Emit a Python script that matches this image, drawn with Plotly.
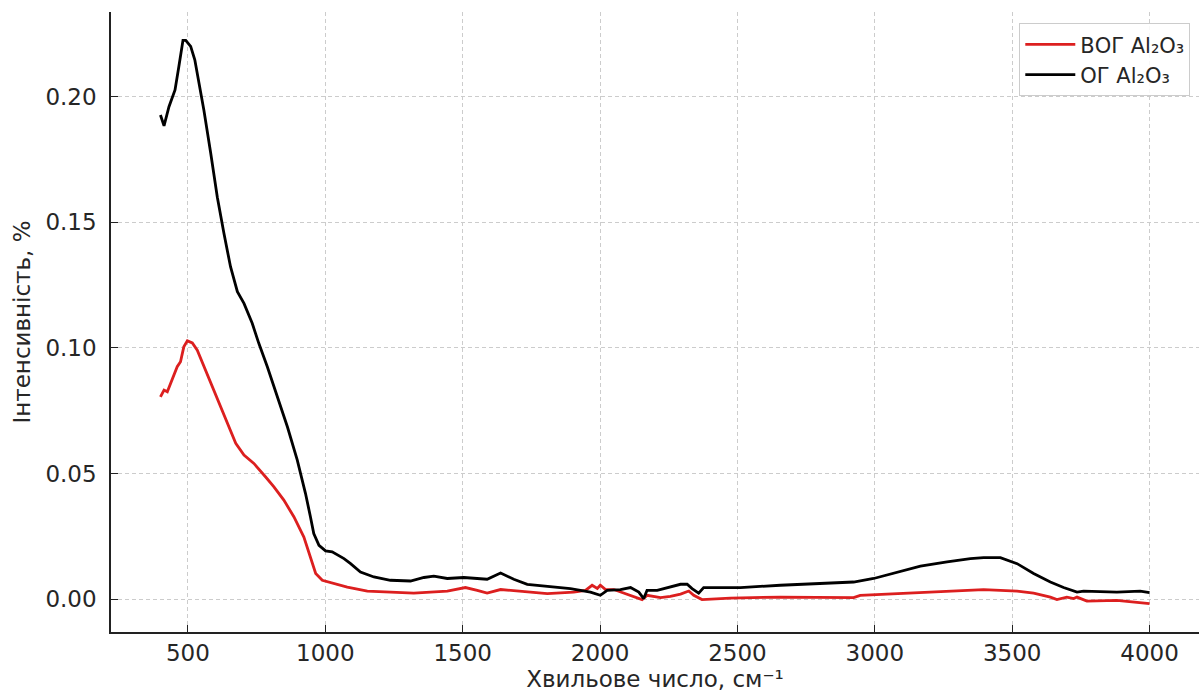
import plotly.graph_objects as go

# ОГ Al2O3 (black)
og_x = [400, 413, 431, 453, 467, 482, 492, 510, 525, 544, 558, 583, 607, 631, 655, 680,
        704, 734, 758, 789, 825, 862, 898, 928, 946, 958, 977, 1001, 1025, 1068, 1092,
        1128, 1177, 1237, 1310, 1359, 1395, 1444, 1504, 1589, 1638, 1686, 1735, 1808,
        1892, 1965, 2001, 2026, 2074, 2111, 2141, 2159, 2171, 2208, 2244, 2293, 2317,
        2335, 2359, 2377, 2438, 2511, 2656, 2838, 2923, 2996, 3081, 3166, 3263, 3348,
        3396, 3457, 3518, 3578, 3639, 3687, 3736, 3760, 3881, 3966, 4000]
og_y = [0.1927, 0.1884, 0.1960, 0.2027, 0.2120, 0.2224, 0.2224, 0.2200, 0.2147, 0.2040,
        0.1947, 0.1775, 0.1600, 0.1456, 0.1323, 0.1224, 0.1177, 0.1098, 0.1018, 0.0925,
        0.0805, 0.0686, 0.0553, 0.0420, 0.0327, 0.0261, 0.0214, 0.0192, 0.0188, 0.0161,
        0.0141, 0.0108, 0.0088, 0.0075, 0.0072, 0.0086, 0.0091, 0.0082, 0.0086, 0.0079,
        0.0104, 0.0079, 0.0059, 0.0051, 0.0042, 0.0028, 0.0015, 0.0035, 0.0038, 0.0046,
        0.0028, 0.0002, 0.0035, 0.0035, 0.0046, 0.0059, 0.0059, 0.0042, 0.0024, 0.0046,
        0.0046, 0.0046, 0.0055, 0.0062, 0.0068, 0.0082, 0.0108, 0.0131, 0.0148, 0.0161,
        0.0165, 0.0165, 0.0141, 0.0102, 0.0068, 0.0046, 0.0028, 0.0032, 0.0028, 0.0032,
        0.0026]

# ВОГ Al2O3 (red)
vog_x = [400, 413, 425, 443, 461, 473, 485, 498, 516, 534, 564, 589, 613, 643, 674, 704,
         740, 783, 813, 849, 886, 922, 946, 965, 989, 1031, 1080, 1153, 1237, 1322, 1444,
         1510, 1553, 1589, 1638, 1710, 1808, 1904, 1947, 1971, 1990, 2001, 2020, 2050,
         2099, 2153, 2171, 2220, 2256, 2293, 2323, 2341, 2371, 2474, 2656, 2923, 2947,
         3141, 3286, 3396, 3518, 3578, 3639, 3663, 3699, 3724, 3736, 3772, 3881, 4000]
vog_y = [0.0805, 0.0832, 0.0825, 0.0872, 0.0925, 0.0945, 0.1004, 0.1028, 0.1020, 0.0991,
         0.0912, 0.0845, 0.0779, 0.0699, 0.0620, 0.0573, 0.0540, 0.0486, 0.0447, 0.0394,
         0.0327, 0.0247, 0.0168, 0.0102, 0.0075, 0.0062, 0.0048, 0.0032, 0.0028, 0.0024,
         0.0032, 0.0046, 0.0035, 0.0024, 0.0038, 0.0032, 0.0022, 0.0028, 0.0035, 0.0055,
         0.0042, 0.0055, 0.0038, 0.0038, 0.0019, -0.0002, 0.0015, 0.0006, 0.0011, 0.0020,
         0.0032, 0.0015, -0.0002, 0.0004, 0.0008, 0.0006, 0.0015, 0.0024, 0.0032, 0.0038,
         0.0032, 0.0024, 0.0008, -0.0002, 0.0008, 0.0002, 0.0008, -0.0008, -0.0005, -0.0018]

x_ticks = [500, 1000, 1500, 2000, 2500, 3000, 3500, 4000]
y_ticks = [0.00, 0.05, 0.10, 0.15, 0.20]

series_names = ["ВОГ Al₂O₃", "ОГ Al₂O₃"]
x_title = "Хвильове число, см⁻¹"
y_title = "Інтенсивність, %"

FONT = "DejaVu Sans"
TXT = "#262626"

fig = go.Figure()
fig.add_trace(go.Scatter(x=vog_x, y=vog_y, mode="lines", name=series_names[0],
                         line=dict(color="#dc1f1f", width=2.8)))
fig.add_trace(go.Scatter(x=og_x, y=og_y, mode="lines", name=series_names[1],
                         line=dict(color="#000000", width=2.8)))

axis_common = dict(
    showline=True, linecolor="#222222", linewidth=1.6, mirror=False,
    ticks="inside", ticklen=7, tickwidth=1.4, tickcolor="#222222",
    showgrid=True, gridcolor="#cccccc", gridwidth=1, griddash="4px,3px",
    zeroline=False, tickfont=dict(family=FONT, size=23, color=TXT),
)

fig.update_layout(
    width=1201, height=695,
    margin=dict(l=111, r=2, t=12, b=63),
    paper_bgcolor="white", plot_bgcolor="white",
    font=dict(family=FONT, color=TXT),
    xaxis=dict(range=[220, 4180], tickvals=x_ticks, ticklabelstandoff=0,
               title=dict(text=x_title, font=dict(family=FONT, size=23, color=TXT), standoff=4),
               **axis_common),
    yaxis=dict(range=[-0.0131, 0.2337], tickvals=y_ticks, tickformat=".2f",
               ticklabelstandoff=8,
               title=dict(text=y_title, font=dict(family=FONT, size=23, color=TXT), standoff=8),
               **axis_common),
    legend=dict(x=0.992, y=0.982, xanchor="right", yanchor="top",
                bgcolor="rgba(255,255,255,0.85)", bordercolor="#cccccc", borderwidth=1,
                font=dict(family=FONT, size=21, color=TXT), itemwidth=50,
                tracegroupgap=4),
    showlegend=True,
)

fig.write_html("out.html")
